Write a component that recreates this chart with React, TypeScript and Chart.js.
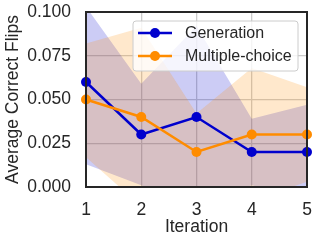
import React, { useEffect, useRef } from 'react';
import { Chart, registerables } from 'chart.js';

Chart.register(...registerables);

const iterations = ['1', '2', '3', '4', '5'];
const yTicks = [0, 0.025, 0.05, 0.075, 0.1];

const genMean = [0.06, 0.03, 0.04, 0.02, 0.02];
const genUpper = [0.103, 0.059, 0.092, 0.039, 0.047];
const genLower = [0.013, 0.001, -0.012, 0.001, -0.007];

const mcMean = [0.05, 0.04, 0.02, 0.03, 0.03];
const mcUpper = [0.082, 0.091, 0.042, 0.068, 0.057];
const mcLower = [0.017, -0.011, -0.002, -0.008, 0.003];

const seriesNames = ['Generation', 'Multiple-choice'];

const FONT = '"Liberation Sans", Arial, Helvetica, sans-serif';
const TEXT = '#262626';
const BLUE = 'rgb(0,0,205)';
const ORANGE = 'rgb(255,140,0)';
const BLUE_FILL = 'rgba(0,0,205,0.2)';
const ORANGE_FILL = 'rgba(255,140,0,0.2)';

export default function App() {
  const ref = useRef<HTMLCanvasElement>(null);

  useEffect(() => {
    if (!ref.current) return;

    const framePlugin = {
      id: 'frame',
      afterDatasetsDraw(chart: any) {
        const { ctx, chartArea: a } = chart;
        ctx.save();
        ctx.strokeStyle = '#262626';
        ctx.lineWidth = 2;
        ctx.strokeRect(a.left, a.top, a.right - a.left, a.bottom - a.top);
        ctx.restore();
      },
    };

    const legendPlugin = {
      id: 'boxLegend',
      afterDraw(chart: any) {
        const { ctx, chartArea: a } = chart;
        const w = 165;
        const h = 50;
        const x = a.right - 9 - w;
        const y = a.top + 9;
        ctx.save();
        ctx.beginPath();
        const r = 3;
        ctx.moveTo(x + r, y);
        ctx.lineTo(x + w - r, y);
        ctx.arcTo(x + w, y, x + w, y + r, r);
        ctx.lineTo(x + w, y + h - r);
        ctx.arcTo(x + w, y + h, x + w - r, y + h, r);
        ctx.lineTo(x + r, y + h);
        ctx.arcTo(x, y + h, x, y + h - r, r);
        ctx.lineTo(x, y + r);
        ctx.arcTo(x, y, x + r, y, r);
        ctx.closePath();
        ctx.fillStyle = 'rgba(255,255,255,0.8)';
        ctx.fill();
        ctx.strokeStyle = 'rgb(204,204,204)';
        ctx.lineWidth = 1;
        ctx.stroke();
        const colors = [BLUE, ORANGE];
        seriesNames.forEach((name, i) => {
          const cy = y + 12 + i * 23;
          ctx.strokeStyle = colors[i];
          ctx.lineWidth = 2.5;
          ctx.beginPath();
          ctx.moveTo(x + 5, cy);
          ctx.lineTo(x + 39, cy);
          ctx.stroke();
          ctx.fillStyle = colors[i];
          ctx.beginPath();
          ctx.arc(x + 22, cy, 5, 0, Math.PI * 2);
          ctx.fill();
          ctx.fillStyle = TEXT;
          ctx.font = `16px ${FONT}`;
          ctx.textBaseline = 'middle';
          ctx.textAlign = 'left';
          ctx.fillText(name, x + 52, cy + 1);
        });
        ctx.restore();
      },
    };

    const band = (data: number[], color: string, fill: any, order: number) => ({
      data,
      borderWidth: 0,
      borderColor: 'rgba(0,0,0,0)',
      backgroundColor: color,
      pointRadius: 0,
      pointHoverRadius: 0,
      fill,
      order,
      tension: 0,
    });

    const line = (label: string, data: number[], color: string, order: number) => ({
      label,
      data,
      borderColor: color,
      backgroundColor: color,
      borderWidth: 2.5,
      pointRadius: 5,
      pointBackgroundColor: color,
      pointBorderWidth: 0,
      fill: false,
      order,
      tension: 0,
    });

    const chart = new Chart(ref.current, {
      type: 'line',
      data: {
        labels: iterations,
        datasets: [
          band(genLower, 'rgba(0,0,0,0)', false, 6),
          band(genUpper, BLUE_FILL, 0, 5),
          band(mcLower, 'rgba(0,0,0,0)', false, 6),
          band(mcUpper, ORANGE_FILL, 2, 4),
          line(seriesNames[0], genMean, BLUE, 2),
          line(seriesNames[1], mcMean, ORANGE, 1),
        ] as any,
      },
      options: {
        responsive: false,
        maintainAspectRatio: false,
        animation: false,
        layout: { padding: { left: 0, top: 12, right: 12, bottom: 0 } },
        plugins: {
          legend: { display: false },
          tooltip: { enabled: false },
        },
        scales: {
          x: {
            type: 'category',
            offset: false,
            grid: { color: 'rgb(204,204,204)', lineWidth: 1.3, drawTicks: false, offset: false },
            border: { display: false },
            ticks: { color: TEXT, font: { family: FONT, size: 17.5 }, padding: 13, maxRotation: 0 },
            title: {
              display: true,
              text: 'Iteration',
              color: TEXT,
              font: { family: FONT, size: 17.5 },
              padding: { top: 0, bottom: 6 },
            },
            afterFit(scale: any) {
              scale.height = 57;
              scale.paddingLeft = 0;
              scale.paddingRight = 0;
              scale.paddingTop = 0;
              scale.paddingBottom = 0;
            },
          },
          y: {
            min: 0,
            max: 0.1,
            afterBuildTicks(scale: any) {
              scale.ticks = yTicks.map((v) => ({ value: v }));
            },
            grid: { color: 'rgb(204,204,204)', lineWidth: 1.3, drawTicks: false },
            border: { display: false },
            ticks: {
              color: TEXT,
              font: { family: FONT, size: 17.5 },
              padding: 15,
              callback: (v: any) => Number(v).toFixed(3),
            },
            title: {
              display: true,
              text: 'Average Correct Flips',
              color: TEXT,
              font: { family: FONT, size: 17.5 },
              padding: { top: 3, bottom: 0 },
            },
            afterFit(scale: any) {
              scale.width = 86;
              scale.paddingLeft = 0;
              scale.paddingRight = 0;
              scale.paddingTop = 0;
              scale.paddingBottom = 0;
            },
          },
        },
      } as any,
      plugins: [framePlugin, legendPlugin],
    });

    return () => chart.destroy();
  }, []);

  return (
    <div style={{ position: 'absolute', left: 0, top: 0, width: 319, height: 244 }}>
      <canvas ref={ref} width={319} height={244} style={{ width: 319, height: 244, display: 'block' }} />
    </div>
  );
}
